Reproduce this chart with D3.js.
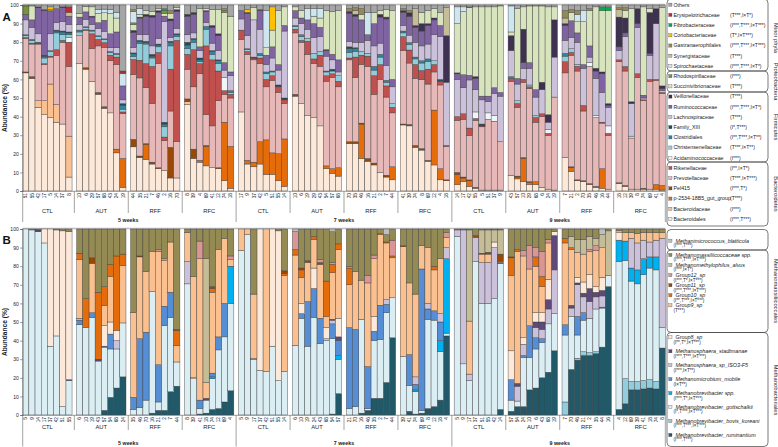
<!DOCTYPE html>
<html>
<head>
<meta charset="utf-8">
<script src="https://cdn.jsdelivr.net/npm/d3@7"></script>
<style>
  body { margin: 0; background: #fff; }
  svg { font-family: "Liberation Sans", Arial, sans-serif; }
</style>
</head>
<body>
<svg id="chart" width="778" height="447"></svg>
<script>
const weeks = ["5 weeks", "7 weeks", "9 weeks"];
const treatments = ["CTL", "AUT", "RFF", "RFC"];
const yTicks = [0, 10, 20, 30, 40, 50, 60, 70, 80, 90, 100];

// ---- panel A: bacterial families (stack order bottom -> top)
const keysA = ["bd","bc","p25","pel","pv","rk","ac","ch","cl","fx","la","ru","ve","su","rh","sp","sy","ga","co","fi","er","ot"];
const namesA = ["Bacteroidales","Bacteroidaceae","p-2534-18B5_gut_group","Pel415","Prevotellaceae","Rikenellaceae",
  "Acidaminococcaceae","Christensenellaceae","Clostridiales","Family_XIII","Lachnospiraceae","Ruminococcaceae",
  "Veillonellaceae","Succinivibrionaceae","Rhodospirillaceae","Spirochaetaceae","Synergistaceae",
  "Gastranaerophilales","Coriobacteriaceae","Fibrobacteraceae","Erysipelotrichaceae","Others"];
const statsA = ["(I***,T***)","(I***)","(T***)","(I***,T*)","(T***,I×T***)","(I**,I×T*)",
  "(I***)","(T***,I×T**)","(I**,T***,I×T**)","(I*,T***)","(T***)","(I***,T***,I×T*)",
  "(T***)","(T***)","(I***)","(I***,T***,I×T*)","(T***)",
  "(I***,T***,I×T***)","(T*,I×T***)","(I***,T***,I×T***)","(T***,I×T*)",""];
const phylaA = ["Minor phyla", "Proteobacteria", "Firmicutes", "Bacteroidetes"];

const idsA = [
  [51,55,42,17,5,14,37,8], [10,6,29,57,68,43,24,19], [44,35,21,7,46,2,16,70], [8,39,4,69,41,12,74,18],
  [17,9,37,42,5,51,55,14], [10,6,19,29,43,54,57,68], [70,35,46,16,21,2,7,44], [41,39,74,8,69,12,4,18],
  [14,17,42,55,5,51,37,9], [43,57,10,29,68,6,24,19], [7,21,2,70,35,46,16,44], [18,12,39,8,74,69,41,4]
];

const a5CTL = [
  {bd:63.5, pel:0.5, pv:18, rk:0.5, ch:1, cl:0.5, la:8, ru:3, rh:4.5, ot:0.5},
  {bd:60.5, pel:1, pv:17.5, rk:0.5, ch:1.5, cl:0.5, la:6.5, ru:4, su:7.5, ot:0.5},
  {bd:45, bc:3.5, pv:30.5, rk:0.5, cl:0.5, la:4.5, ru:14, ve:0.5, ot:1},
  {bd:41, bc:7.5, pv:19.5, rk:0.5, ch:3, cl:1, fx:0.5, ru:24, ve:0.5, ot:2.5},
  {bd:39.5, bc:18, pv:14.5, rk:0.5, ch:2.5, cl:0.5, la:9, ru:12, ga:1, co:1.5, ot:1},
  {bd:37, bc:9.5, pv:26.5, rk:3, ch:9, cl:1, fx:0.5, la:4, ru:7.5, ot:2},
  {bd:36, pv:44, rk:1, ch:3, cl:1.5, fx:0.5, la:5, ru:7.5, ve:0.5, ot:1},
  {bd:7.5, bc:22, pv:37.5, rk:13, ac:2.5, ch:1.5, cl:1, fx:0.5, la:4, ru:4.5, sy:2, er:3, ot:1}
];
const a5AUT = [
  {bd:68.5, pv:15, ch:2, cl:1, la:3, ru:4, su:2, ot:4.5},
  {bd:65.5, pel:0.8, pv:20, rk:0.5, ch:1, cl:0.5, la:4, ru:4, su:3, ot:0.7},
  {bd:59, pv:17.5, rk:8, ch:1.5, cl:0.5, la:3, ru:4, ve:0.5, su:5, ot:1},
  {bd:52, pel:1, pv:25, rk:3.5, ch:1.5, cl:0.5, la:4, ru:3, su:5, sp:2, ot:2.5},
  {bd:44.5, pel:0.8, pv:32, rk:2.5, ch:1.5, cl:0.5, la:4, ru:6, su:4, sp:2, ot:2.2},
  {bd:42, pv:28, rk:3, ch:1.5, cl:0.5, la:2, ru:7.5, su:11, sp:2, ot:2.5},
  {bd:20.5, p25:2, pv:45.5, rk:4, ch:1.5, cl:0.5, la:3, ru:8.5, su:7.5, sp:3, ot:4},
  {bd:2, p25:15.5, pv:24, rk:1, ch:1.5, cl:2, fx:1, la:2, ru:7.5, sp:6.5, ga:0.5, er:1, ot:35.5}
];
const a5RFF = [
  {bd:23.5, pel:4, pv:34.5, rk:8, ch:1.5, cl:1.5, fx:0.5, la:3, ru:8, ve:1, su:3, rh:1, sp:6, ga:1, ot:2.5},
  {bd:18, pel:0.8, pv:42, rk:9.5, ch:9, cl:1, fx:0.7, la:3, ru:9, ve:0.5, su:1.5, sp:3, ot:2},
  {bd:17, p25:8, pel:0.5, pv:30, rk:13, ch:10.5, cl:1, fx:0.5, la:3.5, ru:10, ve:1, su:2, ot:3},
  {bd:14.5, pel:1, pv:31.5, rk:20, ch:4.5, cl:1, fx:1, la:4.5, ru:15.5, ve:1, su:2, ot:3.5},
  {bd:12, pel:0.5, pv:56, rk:6, ch:3, cl:1, fx:0.5, la:3, ru:14, ve:1, su:1, ot:2},
  {bd:11, pv:16, rk:2, ch:5.5, cl:1.5, fx:1, la:54, ru:3, su:1.5, rh:1.5, fi:1, ot:2},
  {bd:7, pel:16.5, pv:19.5, rk:22.5, ch:12.5, cl:2, fx:0.5, la:2, ru:9, ve:1, su:3, ga:1.5, ot:3},
  {bd:7, pv:19.5, rk:54.5, ch:2, cl:1, fx:0.5, la:3, ru:9, ve:1, su:1, ot:1.5}
];
const a5RFC = [
  {bd:46.5, bc:1.5, pel:1.5, pv:16, rk:8, ch:3, cl:2, fx:1.5, la:4, ru:10, ve:1, ot:5},
  {bd:17.5, pel:5, pv:33.5, rk:20, ch:4, cl:1.5, fx:0.5, la:3, ru:10, ve:1, ot:4},
  {bd:15.5, p25:1, pv:46.5, rk:5.5, ch:1, cl:1, fx:1, la:4, ru:2, su:20.5, ot:2},
  {bd:13.5, p25:10.5, pel:0.5, pv:16.5, rk:37, ch:9, cl:1.5, la:2, ru:6, ve:0.5, su:1, ot:2},
  {bd:12.5, pv:22.5, rk:35.5, ch:3, cl:1.5, fx:0.5, la:4, ru:8.5, ve:1, su:8.5, ot:2.5},
  {bd:12, pel:0.5, pv:36, rk:16, ch:4, cl:1.5, fx:0.5, la:5, ru:8, ve:1, su:13, ot:2.5},
  {bd:5.5, p25:31.5, pv:15, rk:2, ac:7, la:4, ru:4, su:27, rh:1, ga:1, ot:2},
  {bd:1.5, p25:22.5, pv:26, rk:2, ch:1, cl:1, la:8, ru:2, su:30, ot:6}
];
const a7CTL = [
  {bd:42.5, pv:39, rk:5, la:6, ru:4.5, ot:3},
  {bd:14.5, p25:2, pv:57, rk:1.5, ch:1, cl:0.5, la:7, ru:12, ve:0.5, co:1.5, ot:2.5},
  {bd:13, p25:2.5, pv:55, rk:1, fx:0.5, la:20, su:6.5, ot:1.5},
  {bd:14.5, p25:12, pv:42, rk:3, ch:1.5, cl:1, la:13, ru:10, ve:0.5, ot:2.5},
  {bd:9, p25:18.5, pv:28.5, rk:4, ch:3, cl:1, la:4, ru:5, su:4, sp:20, ot:3},
  {bd:9, p25:11.5, pv:39, rk:2.5, ch:2, cl:0.5, la:7, ru:6, su:9, co:12.5, ot:1},
  {bd:5.5, p25:14.5, pv:33, rk:3, fx:1, la:8, ru:3, su:29, ot:3},
  {bd:2.5, p25:25.5, pv:19, rk:2, fx:1, la:36, ru:3, su:10, ot:1}
];
const a7AUT = [
  {bd:51, pel:1, pv:33, rk:2, ch:1.5, cl:0.5, la:4, ru:4, su:2, ot:1},
  {bd:47, pv:33, rk:1, ch:2, cl:1, la:6, ru:3, su:4, ot:3},
  {bd:40.5, pv:33, rk:7, ch:1.5, la:5, ru:5, sp:6, ot:2},
  {bd:39.5, pv:29, rk:2.5, ch:3, la:8.5, ru:7.5, su:4, sp:4, ot:2},
  {bd:35, pv:32, rk:6, ch:2, la:8, ru:5, su:5, sp:5, ot:2},
  {bd:12, p25:1.5, pv:45.5, rk:3, ch:2, cl:0.5, la:8, ru:3, ve:0.5, su:21, ot:3},
  {bd:9.5, p25:2.5, pv:49, rk:2, ch:1.5, fx:1, la:5, ru:3, su:23, ot:3.5},
  {bd:8, p25:4.5, pv:43.5, rk:3, ch:3, la:2, ru:6.5, su:26.5, ot:3}
];
const a7RFF = [
  {bd:25.5, pel:1, pv:44, rk:1, ch:3, cl:2, fx:1, la:3, ru:15, ve:1, ga:1.5, ot:2},
  {bd:25.5, pel:1, pv:34.5, rk:11, ch:3, cl:1.5, fx:0.5, la:3, ru:14, ve:1, sy:2, ga:1.5, ot:1.5},
  {bd:17.5, p25:18.5, pel:0.5, pv:31.5, rk:5, ch:2, la:5, ru:12, su:3, ga:3, ot:2},
  {bd:16, pel:1.5, pv:49.5, rk:5.5, ch:1.5, la:7, ru:3, sp:12, ot:4},
  {bd:14, pel:1, pv:37, rk:10, ch:3, cl:2, la:11, ru:12, su:6, ot:4},
  {bd:10, pv:50, rk:8, ch:4, cl:1.5, la:6, ru:14, ve:1.5, su:2, ot:3},
  {bd:7.5, pel:1, pv:42, rk:6, ch:2, cl:1, la:8, ru:25, ve:1, su:4, ot:2.5},
  {bd:6, p25:7, pv:29, rk:3, ch:2, la:9, ru:4, su:37, ot:3}
];
const a7RFC = [
  {bd:35.5, pel:0.5, pv:39.5, rk:7.5, ch:2, cl:1, la:3, ru:7, ve:1, ga:1, ot:2},
  {bd:35, pel:0.8, pv:33, rk:7, ch:3, cl:1, la:4, ru:10, ve:2, ga:1.2, ot:3},
  {bd:23.5, pel:1, pv:36, rk:7.5, ch:3, cl:1, la:8, ru:8, ve:1, sy:9, ot:2},
  {bd:22, pel:0.8, pv:37, rk:5, ch:4, cl:1.2, la:8, ru:8, ve:4, su:6, ot:4},
  {bd:16, pel:0.5, pv:41, rk:8, ch:4, cl:1.5, la:8, ru:10, ve:1, su:7, ot:3},
  {bd:14, p25:29.5, pv:20.5, rk:4, ch:2, la:14, ru:8, ve:1, su:5, ot:2},
  {bd:6, p25:6, pv:45, rk:2, fx:1, la:23, ru:6, su:7, ot:4},
  {bd:5.5, pel:0.5, pv:18, rk:0.5, la:34, ve:25, sy:15, ot:1.5}
];
const a9CTL = [
  {bd:3.5, p25:5.5, pel:1, pv:28, rk:2, la:20, ru:3, ve:0.5, su:26.5, sp:9, ot:1},
  {bd:5, p25:2, pel:0.5, pv:31, rk:3, la:14, ru:7, su:34, sp:2.5, ot:1},
  {bd:2.5, p25:3, pel:0.5, pv:24, rk:4, la:26, ru:2.5, su:36.5, fi:0.5, ot:1},
  {bd:1.5, pel:0.5, pv:36, rk:1, ac:3.5, la:12, ru:6, ve:1, su:37.5, ot:1},
  {bd:0.5, pv:34, rk:0.5, fx:1, la:13, ru:2, su:48, ot:1},
  {bd:0.5, pv:38, ac:3.5, la:6, ru:3, su:48, ot:1},
  {bd:0.5, pv:37, ac:3, la:12, ru:3, su:43.5, ot:1},
  {bd:0.5, pv:26, la:24.5, ru:2, su:46.5, ot:0.5}
];
const a9AUT = [
  {bd:8.5, pv:50.5, rk:1.5, cl:1, la:14, ve:8, su:2, sp:14, ot:0.5},
  {bd:6.5, p25:1, pel:0.5, pv:37, rk:2, ch:1.5, la:9, ru:3, su:37.5, ot:2},
  {bd:5, p25:12.5, pel:0.5, pv:40.5, rk:1.5, la:6, ru:3, ve:18, su:12, ot:1},
  {bd:3.5, p25:1, pel:0.5, pv:50, rk:1, ch:1, la:9, ru:3, su:30.5, ot:0.5},
  {bd:3.5, p25:1.5, pv:32, rk:2.5, ch:1, la:10, ru:4, su:45, ot:0.5},
  {bd:2, pv:38, rk:1.5, la:13, ve:4, su:41, ot:0.5},
  {bd:1, pv:29, rk:1, ac:2, la:4, ve:4, su:58, ot:1},
  {bd:0.5, pv:50, la:21.5, ve:20, su:7, ot:1}
];
const a9RFF = [
  {bd:18, pv:45.5, rk:6, ch:3, cl:1.5, la:7, ru:8, ve:1, sy:3, ga:4, ot:3},
  {bd:10.5, p25:2, pel:0.5, pv:60, rk:1.5, ch:2, la:6, ru:9, su:4.5, ga:1.5, ot:2.5},
  {bd:5.5, pel:0.5, pv:58.5, rk:2.5, ch:1, la:12, ru:5, su:6, sp:4, ga:2, ot:3},
  {bd:5, pel:0.5, pv:37.5, rk:3, la:20, ru:2, su:23, sp:6, ot:3},
  {bd:3.5, pel:0.5, pv:63, ac:2, la:3, ru:6, su:19, ga:1, ot:2},
  {bd:2, pel:0.5, pv:37, ac:1, la:20, ru:4, ve:1.5, su:33, ot:1},
  {bd:1.5, p25:10.5, pv:24.5, rk:0.5, la:16, ru:10, ve:1, su:33, fi:2, ot:1},
  {bd:1, pv:29, rk:1, ac:4, la:10, ru:1, ve:1, su:50, fi:2, ot:1}
];
const a9RFC = [
  {bd:4, pel:0.5, pv:65, rk:1, la:5, ru:2, ve:16, sy:4, ga:1, ot:1.5},
  {bd:2.5, pel:0.5, pv:61.5, rk:2, ch:0.5, la:16, ru:2, ve:8, su:4, ga:1.5, ot:1.5},
  {bd:1, pv:27.5, ac:1, la:17.5, ve:1, su:50, ot:2},
  {bd:1, pv:60, rk:2, la:25, ru:2, ve:8, ot:2},
  {bd:1, pel:0.5, pv:47, rk:0.5, la:1, ru:1.5, su:47.5, ot:1},
  {bd:1, pv:58, rk:1, la:13, ru:1, ve:22, su:2, ot:2},
  {bd:1, p25:2.5, pv:56, rk:0.5, la:30, ve:8, ot:2},
  {bd:0.5, p25:2.5, pv:49.5, rk:0.5, la:1, ru:1, ve:1.5, su:42, ot:1.5}
];

// ---- panel B: methanogens (stack order bottom -> top)
const keysB = ["ru","bk","go","mb","mm","ms","st","g8","g9","g10","g11","g12","al","mc","bl"];
const namesB = ["Methanobrevibacter_ruminantium","Methanobrevibacter_bovis_koreani","Methanobrevibacter_gottschalkii",
  "Methanobrevibacter spp.","Methanomicrobium_mobile","Methanosphaera_sp_ISO3-F5","Methanosphaera_stadtmanae",
  "Group8_sp","Group9_sp","Group10_sp","Group11_sp","Group12_sp","Methanomethylophilus_alvus",
  "Methanomassiliicoccaceae spp.","Methanimicrococcus_blatticola"];
const statsB = ["(I***,T***)","(I***,T***,I×T***)","(I*,T***,I×T***)","(I***,T*,I×T***)","(I×T**)",
  "(I***,I×T**)","(I***,T***,I×T***)","(I**,T*,I×T***)","(T***)","(I**,T***,I×T***)",
  "(I***,T***,I×T***)","(I***,T*,I×T***)","(I***,I×T*)","(I***,T***,I×T***)","(I***,T***)"];
const ordersB = ["", "Methanomassiliicoccales", "Methanobacteriales"];

const idsB = [
  [5,9,14,17,37,42,51,55], [6,10,19,43,57,54,68,24], [35,46,70,16,21,2,7,44], [8,39,41,18,74,12,69,4],
  [5,9,17,37,42,51,55,14], [6,10,19,24,43,68,54,57], [21,70,16,46,35,2,7,44], [39,41,74,69,8,12,18,4],
  [5,9,17,37,51,55,42,14], [57,54,24,10,6,43,68,19], [7,70,46,21,2,35,44,16], [4,12,69,39,41,18,74,8]
];

const b5CTL = [
  {go:100}, {go:99.5, mc:0.5}, {go:98.5, st:1, mc:0.5}, {go:92.5, g8:7.5},
  {go:37, g8:63}, {go:42.5, g8:57, mc:0.5}, {go:4.5, g8:94.5, mc:1}, {go:18.5, st:0.5, g8:79.5, mc:1.5}
];
const b5AUT = [
  {go:48.5, mm:2.5, ms:1, g9:31.5, g10:3.5, mc:13},
  {go:47, g10:15.5, mc:37.5},
  {go:52.5, mm:2.5, g9:26.5, g11:3, mc:15.5},
  {go:29, st:1, g10:36, mc:34},
  {ru:2.5, go:34, st:0.5, g8:11, g9:11, g10:10, mc:31},
  {ru:9.5, go:26, mm:8, g8:6.5, g9:24.5, g10:6.5, mc:19},
  {ru:14.5, go:21, ms:4.5, g8:5.5, g10:40, mc:14.5},
  {ru:20.5, go:29, g9:31, g10:6, mc:13.5}
];
const b5RFF = [
  {go:3, mm:6.5, g9:45.5, mc:45},
  {go:4, mm:37, g9:44, g11:0.5, mc:14.5},
  {go:8, mm:36.5, g9:32.5, mc:23},
  {ru:1, go:65.5, g9:21.5, mc:12},
  {ru:2.5, go:4.5, mm:20, g9:61, g12:1, mc:11},
  {ru:2.5, go:45.5, mm:10.5, g9:24.5, g12:1, mc:16},
  {ru:12.5, go:40, mm:13.5, g9:27, mc:7},
  {ru:15.5, go:13, g9:9, g10:8, g11:0.5, mc:54}
];
const b5RFC = [
  {go:70.5, ms:12, g9:15.5, mc:2},
  {go:19.5, g8:0.5, g9:54.5, mc:25.5},
  {ru:0.5, go:3, mm:4.5, g9:76, g12:9.5, mc:6.5},
  {ru:1, go:7, st:1, g9:8.5, al:66.5, mc:16},
  {ru:3, go:16.5, mb:1, mm:2, g9:43.5, g10:2, g11:1, mc:31},
  {ru:3.5, go:31.5, mm:7, g9:47, mc:11},
  {ru:7, go:35, mm:18, g9:35, mc:5},
  {ru:13, go:47, mb:20, g9:3.5, g12:2, mc:14.5}
];
const b7CTL = [
  {go:88.5, g9:11.5}, {go:97, g9:3}, {go:30, g8:0.5, g9:34.5, mc:35}, {go:24, g8:76},
  {go:23.5, g9:76.5}, {go:37, g8:63}, {go:18.5, g8:80.5, mc:1}, {go:23.5, g9:51.5, g10:1, g11:1.5, mc:22.5}
];
const b7AUT = [
  {go:37.5, g9:48.5, g10:3, g12:9.5, bl:1.5},
  {go:52, mm:2.5, g8:5.5, g9:14, g10:4, g11:1, mc:21},
  {go:37, mm:24, g9:21, g11:1, mc:17},
  {go:52.5, mm:15.5, g8:11, g9:15.5, g10:1.5, mc:4},
  {go:38.5, mm:13.5, g9:29, g11:1, g12:1.5, mc:16.5},
  {go:40, ms:1, g8:6, g9:6, g10:19, mc:28},
  {ru:0.5, go:40.5, mm:8, ms:2, st:0.5, g9:25, g10:4.5, g12:1, mc:16.5, bl:1.5},
  {ru:11.5, go:18.5, mb:2, mm:8, st:2, g8:10, g9:37, g10:3, mc:8}
];
const b7RFF = [
  {go:3.5, mm:43.5, g9:23, g10:9, g12:1, mc:20},
  {go:4.5, mm:41.5, g9:31, mc:23},
  {ru:1, go:50.5, g9:21, mc:27.5},
  {ru:2.5, go:1, mm:22.5, g9:45, g12:4, mc:25},
  {ru:9, go:31, mm:5, g8:8, g9:31, g12:2, mc:14},
  {ru:9, go:31.5, mm:18.5, g9:38, g10:0.5, mc:2.5},
  {ru:17.5, go:37.5, mm:4.5, ms:2.5, g9:30.5, g10:0.5, mc:4, bl:3},
  {ru:41.5, go:21.5, g9:21.5, g10:1, g12:8.5, mc:6}
];
const b7RFC = [
  {go:31.5, g9:59, g11:0.5, mc:9},
  {ru:2, go:14, mm:16.5, g9:38.5, mc:29},
  {ru:0.5, go:12, mb:1, mm:3, ms:4, g9:44.5, mc:35},
  {ru:1, go:1.5, mm:76, g9:12.5, mc:9},
  {ru:3.5, go:48, mm:5.5, ms:3, g9:30, mc:10},
  {ru:4.5, go:46.5, mm:5, g9:22, g10:2, mc:20},
  {ru:8, go:26, mb:6, mm:10, ms:4.5, g9:29.5, mc:16},
  {ru:42.5, go:1.5, mb:40, ms:6, g9:5.5, g12:2.5, mc:2}
];
const b9CTL = [
  {go:96, ms:3.5, mc:0.5},
  {go:27.5, ms:72, mc:0.5},
  {go:18.5, ms:3.5, g9:28.5, al:49, mc:0.5},
  {go:82.5, ms:13, g11:1, mc:3.5},
  {go:60, ms:22, g9:4.5, g11:0.5, al:12.5, mc:0.5},
  {go:60, ms:22, g9:4.5, g11:1, al:12, mc:0.5},
  {go:62.5, ms:27.5, g8:3, al:6.5, mc:0.5},
  {ru:3, go:78.5, st:0.5, g9:0.5, g11:4, al:13, mc:0.5}
];
const b9AUT = [
  {ru:2, go:6, mm:11, g8:15.5, g9:40.5, g10:9.5, g11:0.5, mc:15},
  {ru:4.5, go:3, ms:8, st:1.5, g9:71, g10:1, mc:11},
  {ru:4.5, go:26.5, mm:1, ms:6, g8:3.5, g9:44, g12:3, mc:11.5},
  {ru:13.5, go:17.5, mm:17, g9:30.5, g12:12.5, mc:9},
  {ru:14.5, go:21, mm:6, ms:5.5, st:3, g8:5, g9:25, g10:5, g12:5, mc:10},
  {ru:20, go:19, mm:2, ms:5, st:4, g8:5, g9:14, g10:5.5, g12:13.5, mc:12},
  {ru:23, go:26, ms:8, st:5, g8:11, g9:19.5, g12:2, mc:5.5},
  {ru:34.5, go:20, ms:23.5, st:18.5, g8:2, mc:1.5}
];
const b9RFF = [
  {bk:7, go:36, mm:5.5, g9:44, g10:2.5, mc:5},
  {ru:24.5, go:28.5, ms:4.5, st:1.5, g9:30, g10:1, al:6, mc:4},
  {ru:29.5, bk:1, go:12.5, mm:10, ms:17, st:1, g8:3, g9:13.5, al:7, mc:5.5},
  {ru:32, bk:2, go:17, mm:4, ms:8.5, st:2, g8:6, g9:15, al:8, mc:5.5},
  {ru:32, bk:1.5, go:18.5, ms:9, st:7, g8:7.5, g9:12.5, g12:1, al:7, mc:4},
  {ru:33, bk:1, go:23, ms:6.5, st:2.5, g8:3, g9:19.5, g12:2.5, al:4, mc:5},
  {ru:36.5, go:21, mm:0.5, ms:6, st:3, g8:7, g9:16, al:7, bl:3},
  {ru:69, go:6, al:24, mc:1}
];
const b9RFC = [
  {ru:3, go:79.5, mb:11.5, g8:4, g9:1, mc:1},
  {ru:6, bk:13.5, go:63.5, mb:10.5, g9:4.5, mc:2},
  {ru:13.5, bk:4.5, go:54, mb:7, ms:16, g9:3, mc:2},
  {ru:13.5, bk:4.5, go:52.5, mb:7.5, ms:14.5, g9:5, mc:2.5},
  {ru:14, bk:4.5, go:57, mb:8.5, ms:10, g9:4, mc:2},
  {ru:14.5, bk:4.5, go:60, mb:6, ms:8, g9:5, mc:2},
  {ru:14, bk:4, go:60, mb:7, ms:9, g9:4, mc:2},
  {ru:36, go:11, ms:48, g9:3, mc:2}
];

// ---- styles
const colorsA = ["#fde9d9","#fac090","#e46c0a","#984807","#e6b9b8","#c0504d",
  "#eef6f9","#92cddc","#31859c","#1f4e5c","#ccc1da","#8064a2",
  "#3f3151","#d7e4bd","#77933c","#cde6f0","#c4bd97","#948a54","#ffc000","#00b050","#c8262c","#a6a6a6"];
const colorsB = ["#215968","#93cddd","#dbeef4","#00b0f0","#558ed5","#ccc1da","#5f497a",
  "#fde9d9","#fac090","#e46c0a","#984807","#d99694","#c4bd97","#948a54","#bfbfbf"];

const svg = d3.select("#chart");
const X0 = 22.7, X1 = 665.3;

function drawPanel(p) {
  const g = svg.append("g");
  const rows = [];
  p.groups.forEach((grp, gi) => grp.forEach((d, si) => rows.push({gi, si, id: p.ids[gi][si], ...d})));

  const x = d3.scaleBand().domain(d3.range(12)).range([X0, X1]).paddingInner(0.085).paddingOuter(0);
  const xb = d3.scaleBand().domain(d3.range(8)).range([0, x.bandwidth()]);
  const y = d3.scaleLinear().domain([0, 100]).range([p.y0, p.y1]);
  const color = d3.scaleOrdinal().domain(p.keys).range(p.colors);

  const series = d3.stack().keys(p.keys).value((d, k) => d[k] || 0)
    .offset(d3.stackOffsetExpand)(rows);

  // top border line
  g.append("line").attr("x1", X0).attr("x2", X1).attr("y1", p.y1 - 0.5).attr("y2", p.y1 - 0.5)
    .attr("stroke", "#bdbdbd").attr("stroke-width", 1.4);

  g.selectAll("g.layer").data(series).enter().append("g")
    .attr("class", "layer")
    .attr("fill", s => color(s.key))
    .selectAll("rect")
    .data(s => s.filter(pt => pt[1] - pt[0] > 0))
    .enter().append("rect")
    .attr("x", pt => x(pt.data.gi) + xb(pt.data.si))
    .attr("width", xb.bandwidth())
    .attr("y", pt => y(pt[1] * 100))
    .attr("height", pt => y(pt[0] * 100) - y(pt[1] * 100))
    .attr("stroke", "#3b3b3b")
    .attr("stroke-width", 0.4);

  // y axis
  const ax = g.append("g").attr("transform", `translate(${X0},0)`)
    .call(d3.axisLeft(y).tickValues(yTicks).tickSize(2.5).tickPadding(1.5));
  ax.selectAll("text").attr("font-size", 5).attr("fill", "#222");
  ax.selectAll("line, path").attr("stroke", "#555").attr("stroke-width", 0.6);

  // x baseline
  g.append("line").attr("x1", X0).attr("x2", X1).attr("y1", p.y0 + 0.3).attr("y2", p.y0 + 0.3)
    .attr("stroke", "#666").attr("stroke-width", 0.6);

  // sample labels
  g.selectAll("text.sample").data(rows).enter().append("text")
    .attr("class", "sample")
    .attr("transform", d => `translate(${x(d.gi) + xb(d.si) + xb.bandwidth() / 2 + 1.7},${p.y0 + 2}) rotate(-90)`)
    .attr("text-anchor", "end")
    .attr("font-size", 4.8)
    .attr("fill", "#222")
    .text(d => d.id);

  // separators
  const bw = x.bandwidth();
  d3.range(13).forEach(b => {
    let xx;
    if (b === 0) xx = x(0);
    else if (b === 12) xx = x(11) + bw;
    else xx = (x(b - 1) + bw + x(b)) / 2;
    const long = b % 4 === 0;
    g.append("line").attr("x1", xx).attr("x2", xx)
      .attr("y1", p.y0).attr("y2", p.y0 + (long ? p.longSep : p.shortSep))
      .attr("stroke", "#666").attr("stroke-width", 0.6);
  });

  // group labels
  d3.range(12).forEach(gi => {
    g.append("text").attr("x", x(gi) + bw / 2).attr("y", p.y0 + p.groupDy)
      .attr("text-anchor", "middle").attr("font-size", 5.8).attr("fill", "#222")
      .text(treatments[gi % 4]);
  });
  weeks.forEach((w, wi) => {
    const cx = (x(wi * 4) + x(wi * 4 + 3) + bw) / 2;
    g.append("text").attr("x", cx).attr("y", p.y0 + p.weekDy)
      .attr("text-anchor", "middle").attr("font-size", 5.3).attr("font-weight", "bold").attr("fill", "#222")
      .text(w);
  });

  // axis title and panel letter
  g.append("text").attr("transform", `translate(7,${(p.y0 + p.y1) / 2 + 10}) rotate(-90)`)
    .attr("text-anchor", "middle").attr("font-size", 6.6).attr("font-weight", "bold").attr("fill", "#222")
    .text("Abundance (%)");
  g.append("text").attr("x", 2.5).attr("y", p.letterY)
    .attr("font-size", 11.5).attr("font-weight", "bold").attr("fill", "#111").text(p.letter);
}

drawPanel({
  groups: [a5CTL, a5AUT, a5RFF, a5RFC, a7CTL, a7AUT, a7RFF, a7RFC, a9CTL, a9AUT, a9RFF, a9RFC],
  ids: idsA, keys: keysA, colors: colorsA,
  y0: 191, y1: 5, shortSep: 22, longSep: 31, groupDy: 21.5, weekDy: 30.5,
  letter: "A", letterY: 20.5
});
drawPanel({
  groups: [b5CTL, b5AUT, b5RFF, b5RFC, b7CTL, b7AUT, b7RFF, b7RFC, b9CTL, b9AUT, b9RFF, b9RFC],
  ids: idsB, keys: keysB, colors: colorsB,
  y0: 415, y1: 229, shortSep: 15, longSep: 31.5, groupDy: 13.5, weekDy: 30,
  letter: "B", letterY: 243.5
});

// ---- legends
const LX0 = 667, LX1 = 768;
const leg = svg.append("g");

function box(y0, y1) {
  leg.append("rect").attr("x", LX0).attr("y", y0).attr("width", LX1 - LX0).attr("height", y1 - y0)
    .attr("rx", 4).attr("fill", "none").attr("stroke", "#444").attr("stroke-width", 0.7);
}
function sideLabel(text, cy) {
  leg.append("text").attr("transform", `translate(773.5,${cy}) rotate(90)`)
    .attr("text-anchor", "middle").attr("font-size", 5.8).attr("fill", "#222").text(text);
}

// legend A
const boxesA = [[-1, 71], [71, 92], [92, 162], [162, 226]];
boxesA.forEach(b => box(b[0], b[1]));
phylaA.forEach((t, i) => sideLabel(t, (boxesA[i][0] + boxesA[i][1]) / 2 + (i === 0 ? 3 : 0)));
const legYA = d3.scaleLinear().domain([0, keysA.length - 1]).range([4.7, 219]);
keysA.slice().reverse().forEach((k, i) => {
  const idx = keysA.indexOf(k);
  const yy = legYA(i);
  leg.append("rect").attr("x", 668.8).attr("y", yy - 1.6).attr("width", 3.2).attr("height", 3.2)
    .attr("fill", colorsA[idx]).attr("stroke", "#444").attr("stroke-width", 0.3);
  leg.append("text").attr("x", 673.5).attr("y", yy + 1.9).attr("font-size", 5.3).attr("fill", "#222")
    .text(namesA[idx]);
  if (statsA[idx]) leg.append("text").attr("x", 730).attr("y", yy + 1.9).attr("font-size", 5)
    .attr("fill", "#222").text(statsA[idx]);
});

// legend B
const boxesB = [[229.5, 250], [250, 332.5], [332.5, 446.5]];
boxesB.forEach(b => box(b[0], b[1]));
sideLabel(ordersB[1], 291);
sideLabel(ordersB[2], 390);
const orderB = keysB.slice().reverse();
const posB = orderB.map((k, i) => {
  if (i === 0) return 240.7;
  if (i <= 6) return d3.scaleLinear().domain([1, 6]).range([255, 305.3])(i);
  return d3.scaleLinear().domain([7, 14]).range([337.3, 435])(i);
});
orderB.forEach((k, i) => {
  const idx = keysB.indexOf(k);
  const yy = posB[i];
  leg.append("rect").attr("x", 668.8).attr("y", yy - 1.6).attr("width", 3.2).attr("height", 3.2)
    .attr("fill", colorsB[idx]).attr("stroke", "#444").attr("stroke-width", 0.3);
  leg.append("text").attr("x", 675.5).attr("y", yy + 1.8).attr("font-size", 5.4)
    .attr("font-style", "italic").attr("fill", "#222").text(namesB[idx]);
  leg.append("text").attr("x", 673.5).attr("y", yy + 6.4).attr("font-size", 4.6)
    .attr("fill", "#222").text(statsB[idx]);
});
</script>
</body>
</html>
